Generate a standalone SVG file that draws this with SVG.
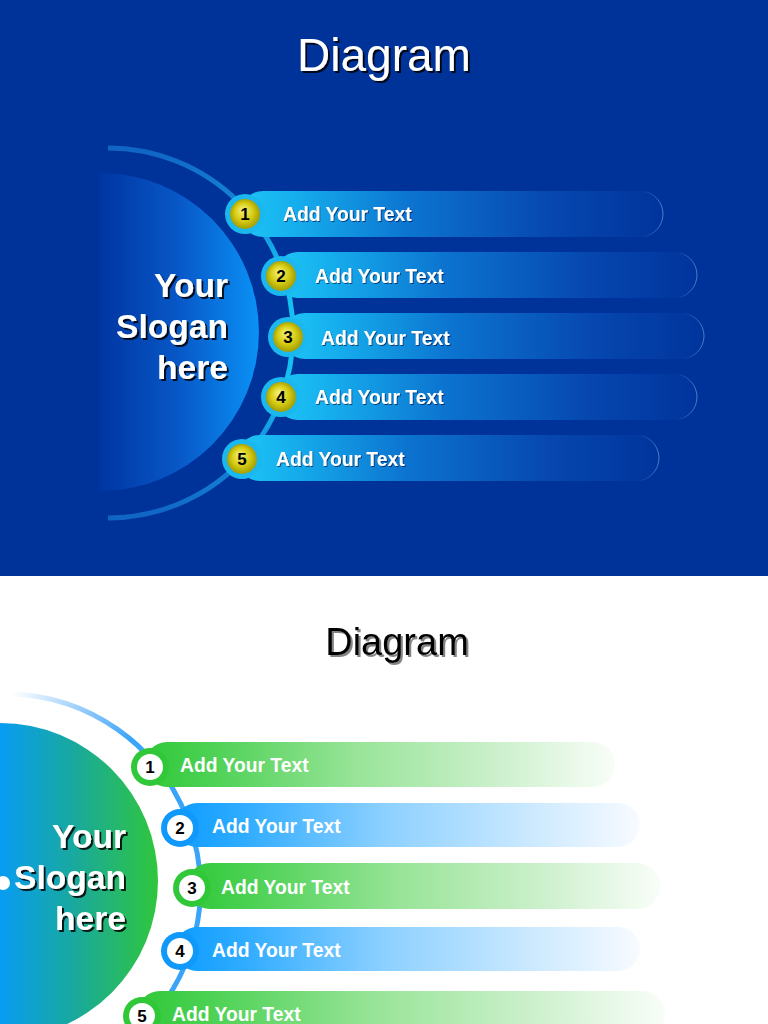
<svg xmlns="http://www.w3.org/2000/svg" width="768" height="1024" viewBox="0 0 768 1024">
<defs>
<style>
.ttl{font-family:"Liberation Sans",Arial,sans-serif;text-anchor:middle}
.slo{font-family:"Liberation Sans",Arial,sans-serif;font-weight:bold;font-size:33.6px;fill:#fff;text-anchor:end}
.lbl{font-family:"Liberation Sans",Arial,sans-serif;font-weight:bold;font-size:19.3px;fill:#fff}
.num{font-family:"Liberation Sans",Arial,sans-serif;font-weight:bold;font-size:17px;fill:#000;text-anchor:middle}
</style>
<filter id="sh" x="-20%" y="-30%" width="140%" height="160%"><feDropShadow dx="2" dy="2" stdDeviation="0.6" flood-color="#000" flood-opacity="0.85"/></filter>
<filter id="shg" x="-20%" y="-30%" width="140%" height="160%"><feDropShadow dx="2" dy="2" stdDeviation="0.6" flood-color="#666" flood-opacity="0.8"/></filter>
<filter id="shs" x="-20%" y="-30%" width="140%" height="160%"><feDropShadow dx="1" dy="1" stdDeviation="0.5" flood-color="#003" flood-opacity="0.6"/></filter>
<linearGradient id="tcirc" x1="100" y1="0" x2="259" y2="0" gradientUnits="userSpaceOnUse">
<stop offset="0" stop-color="#0036a2"/><stop offset="0.5" stop-color="#0858c8"/><stop offset="1" stop-color="#0a92f6"/></linearGradient>
<linearGradient id="tarc" x1="0" y1="148" x2="0" y2="518" gradientUnits="userSpaceOnUse">
<stop offset="0" stop-color="#1064c4"/><stop offset="0.2" stop-color="#1590de"/><stop offset="0.35" stop-color="#14c0f2"/><stop offset="0.65" stop-color="#14c0f2"/><stop offset="0.8" stop-color="#1590de"/><stop offset="1" stop-color="#1064c4"/></linearGradient>
<linearGradient id="tbar" x1="0" y1="0" x2="1" y2="0">
<stop offset="0" stop-color="#1ec6f6"/><stop offset="0.12" stop-color="#16b0ee"/><stop offset="0.4" stop-color="#0c74d0"/><stop offset="0.75" stop-color="#0646ae"/><stop offset="1" stop-color="#00349c"/></linearGradient>
<linearGradient id="tbarS" x1="0" y1="0" x2="1" y2="0">
<stop offset="0" stop-color="#6aa8e8" stop-opacity="0"/><stop offset="0.95" stop-color="#6aa8e8" stop-opacity="0"/><stop offset="1" stop-color="#8ab8f0" stop-opacity="0.55"/></linearGradient>
<radialGradient id="ball" cx="0.5" cy="0.5" r="0.55" fx="0.42" fy="0.35">
<stop offset="0" stop-color="#f6f47a"/><stop offset="0.55" stop-color="#d6cc14"/><stop offset="1" stop-color="#9a9400"/></radialGradient>
<linearGradient id="bcirc" x1="0" y1="0" x2="158" y2="0" gradientUnits="userSpaceOnUse">
<stop offset="0" stop-color="#089cf2"/><stop offset="0.5" stop-color="#1aaa98"/><stop offset="1" stop-color="#30c63c"/></linearGradient>
<linearGradient id="barc" x1="10" y1="697" x2="120" y2="760" gradientUnits="userSpaceOnUse">
<stop offset="0" stop-color="#ffffff"/><stop offset="0.5" stop-color="#9fd0fb"/><stop offset="1" stop-color="#3aa4f8"/></linearGradient>
<linearGradient id="gbar" x1="0" y1="0" x2="1" y2="0">
<stop offset="0" stop-color="#30c838"/><stop offset="0.12" stop-color="#48d050"/><stop offset="0.45" stop-color="#98e498"/><stop offset="0.75" stop-color="#ccf0cc"/><stop offset="0.95" stop-color="#f0fbf0"/><stop offset="1" stop-color="#f8fdf8"/></linearGradient>
<linearGradient id="bbar" x1="0" y1="0" x2="1" y2="0">
<stop offset="0" stop-color="#0c9cff"/><stop offset="0.15" stop-color="#30acff"/><stop offset="0.45" stop-color="#8cd0ff"/><stop offset="0.75" stop-color="#c8e8ff"/><stop offset="0.95" stop-color="#eef7ff"/><stop offset="1" stop-color="#f8fbff"/></linearGradient>
</defs>

<rect x="0" y="0" width="768" height="576" fill="#003399"/>
<rect x="0" y="576" width="768" height="448" fill="#ffffff"/>

<g id="title-top"><text class="ttl" x="384" y="71" font-size="46" fill="#fff" filter="url(#sh)">Diagram</text></g>

<g id="connectors">
<path d="M108,148 A185,185 0 0 1 108,518" fill="none" stroke="url(#tarc)" stroke-width="5"/>
<path d="M10,694 A195,195 0 0 1 140,1030" fill="none" stroke="url(#barc)" stroke-width="5"/>
</g>

<g id="slogan-top">
<path d="M100,173 A159,159 0 0 1 100,491 Z" fill="url(#tcirc)"/>
<g filter="url(#sh)">
<text class="slo" x="228" y="297">Your</text>
<text class="slo" x="228" y="338">Slogan</text>
<text class="slo" x="228" y="379">here</text>
</g>
</g>

<g id="top-item1">
<rect x="240" y="191" width="423" height="46" rx="23" fill="url(#tbar)" stroke="url(#tbarS)" stroke-width="1"/>
<circle cx="245" cy="214" r="20" fill="#1ab8ee"/><circle cx="245" cy="214" r="15" fill="url(#ball)"/>
<text class="num" x="245" y="220">1</text>
<text class="lbl" x="283" y="221" filter="url(#shs)">Add Your Text</text>
</g>
<g id="top-item2">
<rect x="275" y="252" width="422" height="46" rx="23" fill="url(#tbar)" stroke="url(#tbarS)" stroke-width="1"/>
<circle cx="281" cy="276" r="20" fill="#1ab8ee"/><circle cx="281" cy="276" r="15" fill="url(#ball)"/>
<text class="num" x="281" y="282">2</text>
<text class="lbl" x="315" y="283" filter="url(#shs)">Add Your Text</text>
</g>
<g id="top-item3">
<rect x="282" y="313" width="422" height="46" rx="23" fill="url(#tbar)" stroke="url(#tbarS)" stroke-width="1"/>
<circle cx="288" cy="337" r="20" fill="#1ab8ee"/><circle cx="288" cy="337" r="15" fill="url(#ball)"/>
<text class="num" x="288" y="343">3</text>
<text class="lbl" x="321" y="345" filter="url(#shs)">Add Your Text</text>
</g>
<g id="top-item4">
<rect x="275" y="374" width="422" height="46" rx="23" fill="url(#tbar)" stroke="url(#tbarS)" stroke-width="1"/>
<circle cx="281" cy="397" r="20" fill="#1ab8ee"/><circle cx="281" cy="397" r="15" fill="url(#ball)"/>
<text class="num" x="281" y="403">4</text>
<text class="lbl" x="315" y="404" filter="url(#shs)">Add Your Text</text>
</g>
<g id="top-item5">
<rect x="237" y="435" width="422" height="46" rx="23" fill="url(#tbar)" stroke="url(#tbarS)" stroke-width="1"/>
<circle cx="242" cy="459" r="20" fill="#1ab8ee"/><circle cx="242" cy="459" r="15" fill="url(#ball)"/>
<text class="num" x="242" y="465">5</text>
<text class="lbl" x="276" y="466" filter="url(#shs)">Add Your Text</text>
</g>

<g id="title-bottom"><text class="ttl" x="397" y="655" font-size="38" fill="#000" filter="url(#shg)">Diagram</text></g>

<g id="slogan-bottom">
<circle cx="0" cy="881" r="158" fill="url(#bcirc)"/>
<circle cx="3" cy="883" r="7" fill="#fff"/>
<g filter="url(#sh)">
<text class="slo" x="126" y="848">Your</text>
<text class="slo" x="126" y="889">Slogan</text>
<text class="slo" x="126" y="930">here</text>
</g>
</g>

<g id="bottom-item1">
<rect x="145" y="742" width="470" height="45" rx="22" fill="url(#gbar)"/>
<circle cx="150" cy="767" r="19" fill="#30c838"/><circle cx="150" cy="767" r="13" fill="#fff"/>
<text class="num" x="150" y="773">1</text>
<text class="lbl" x="180" y="772">Add Your Text</text>
</g>
<g id="bottom-item2">
<rect x="175" y="803" width="465" height="44" rx="22" fill="url(#bbar)"/>
<circle cx="180" cy="828" r="19" fill="#1098fa"/><circle cx="180" cy="828" r="13" fill="#fff"/>
<text class="num" x="180" y="834">2</text>
<text class="lbl" x="212" y="833">Add Your Text</text>
</g>
<g id="bottom-item3">
<rect x="187" y="863" width="473" height="46" rx="23" fill="url(#gbar)"/>
<circle cx="192" cy="888" r="19" fill="#30c838"/><circle cx="192" cy="888" r="13" fill="#fff"/>
<text class="num" x="192" y="894">3</text>
<text class="lbl" x="221" y="894">Add Your Text</text>
</g>
<g id="bottom-item4">
<rect x="175" y="927" width="465" height="44" rx="22" fill="url(#bbar)"/>
<circle cx="180" cy="951" r="19" fill="#1098fa"/><circle cx="180" cy="951" r="13" fill="#fff"/>
<text class="num" x="180" y="957">4</text>
<text class="lbl" x="212" y="957">Add Your Text</text>
</g>
<g id="bottom-item5">
<rect x="137" y="991" width="528" height="46" rx="23" fill="url(#gbar)"/>
<circle cx="142" cy="1016" r="19" fill="#30c838"/><circle cx="142" cy="1016" r="13" fill="#fff"/>
<text class="num" x="142" y="1022">5</text>
<text class="lbl" x="172" y="1021">Add Your Text</text>
</g>
</svg>
